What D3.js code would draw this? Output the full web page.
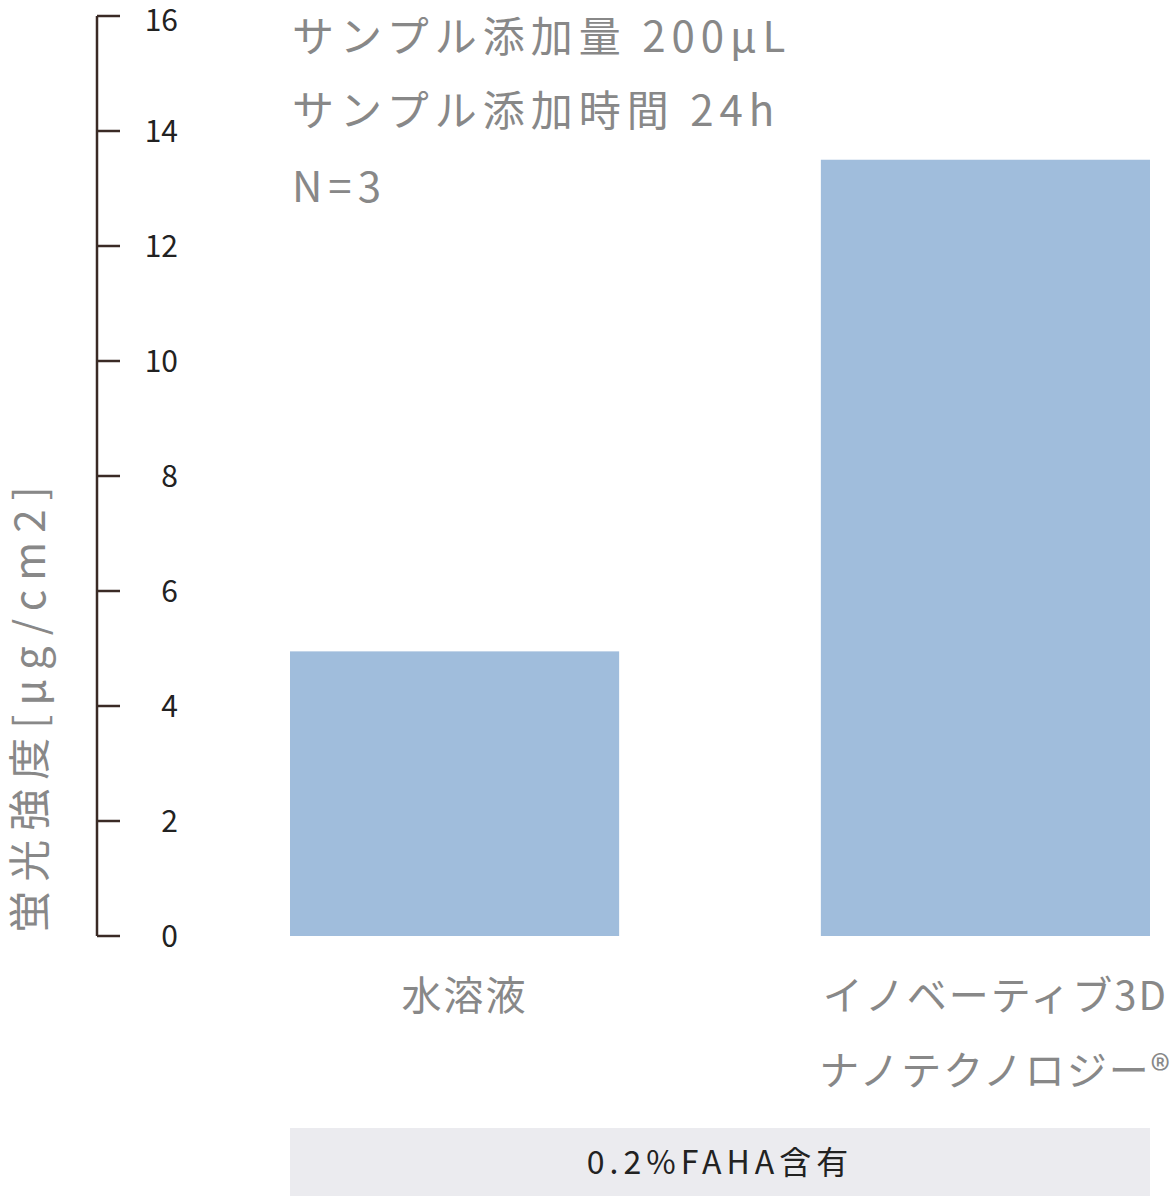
<!DOCTYPE html><html><head><meta charset="utf-8">
<script src="https://cdn.jsdelivr.net/npm/d3@7"></script>
<style>body{margin:0;background:#fff}</style></head><body>
<script>
const categories=["水溶液","イノベーティブ3D\nナノテクノロジー®"];
const values=[4.95,13.5];
const yTicks=[0,2,4,6,8,10,12,14,16];
const notes=["サンプル添加量 200μL","サンプル添加時間 24h","N=3"];
const yTitle="蛍光強度[μg/cm2]";
const footer="0.2%FAHA含有";
const W=1176,H=1196,font="'Noto Sans CJK JP','Noto Sans',sans-serif";
const svg=d3.select("body").append("svg").attr("width",W).attr("height",H);
const y=d3.scaleLinear().domain([0,16]).range([936,16]);
const x=d3.scaleBand().domain(categories).range([290,1150]).paddingInner(0.38).paddingOuter(0);
const ax=svg.append("g");
ax.append("line").attr("x1",97).attr("x2",97).attr("y1",y(16)).attr("y2",y(0)).attr("stroke","#3a2a25").attr("stroke-width",2.5);
yTicks.forEach(t=>{
 ax.append("line").attr("x1",97).attr("x2",120).attr("y1",y(t)).attr("y2",y(t)).attr("stroke","#3a2a25").attr("stroke-width",2.5);
 ax.append("text").attr("x",178).attr("y",y(t)+(t===16?4:0)).attr("dy","0.36em").attr("text-anchor","end").attr("font-family",font).attr("font-size",30).attr("fill","#222").text(t);
});
svg.append("text").attr("transform","translate(30,705) rotate(-90)").attr("text-anchor","middle").attr("dy","0.35em").attr("font-family",font).attr("font-size",42).attr("letter-spacing",9).attr("fill","#888").text(yTitle);
svg.selectAll("rect.bar").data(values).join("rect").attr("class","bar")
 .attr("x",(d,i)=>x(categories[i])).attr("width",x.bandwidth()).attr("y",d=>y(d)).attr("height",d=>y(0)-y(d)).attr("fill","#a0bddc");
notes.forEach((n,i)=>svg.append("text").attr("x",292).attr("y",[52,126,202][i]).attr("font-family",font).attr("font-size",42).attr("letter-spacing",6).attr("fill","#888").text(n));
categories.forEach(c=>{
 c.split("\n").forEach((l,j)=>svg.append("text").attr("x",x(c)+x.bandwidth()/2+10).attr("y",1010+j*75).attr("text-anchor","middle").attr("font-family",font).attr("font-size",40).attr("letter-spacing",2).attr("fill","#888").text(l));
});
svg.append("rect").attr("x",290).attr("y",1128).attr("width",860).attr("height",68).attr("fill","#ebebef");
svg.append("text").attr("x",720).attr("y",1162).attr("dy","0.36em").attr("text-anchor","middle").attr("font-family",font).attr("font-size",32).attr("letter-spacing",5).attr("fill","#222").text(footer);
</script></body></html>
